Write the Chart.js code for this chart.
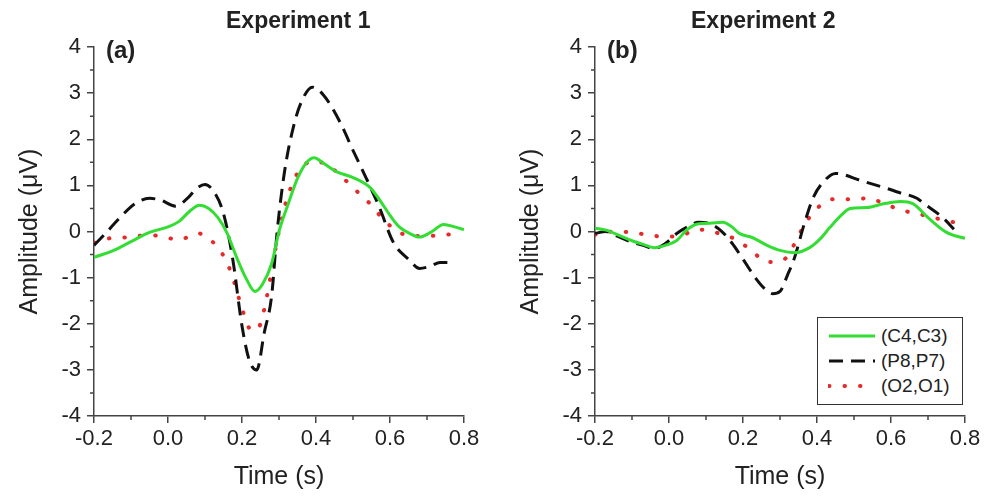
<!DOCTYPE html>
<html lang="en">
<head>
    <title>Experiment 1 / Experiment 2</title>
    <script src="https://cdn.jsdelivr.net/npm/chart.js"></script>
    <style>
        body {
            margin: 0;
            background: #ffffff;
            font-family: 'Liberation Sans', Arial, sans-serif;
            color: #222;
        }
        .panel {
            position: absolute;
            top: 0;
            height: 497px;
        }
        .panel-title {
            position: absolute;
            top: 7px;
            font-weight: bold;
            font-size: 23px;
            white-space: nowrap;
        }
        .panel-tag {
            position: absolute;
            top: 36px;
            font-weight: bold;
            font-size: 24px;
        }
        .legend-box {
            position: absolute;
            left: 817px;
            top: 317px;
            width: 146px;
            height: 88px;
            border: 1.5px solid #333;
            background: #fff;
            padding-top: 5px;
            box-sizing: border-box;
        }
        .legend-item {
            display: flex;
            align-items: center;
            height: 25px;
            font-size: 19px;
        }
        .legend-item svg {
            margin-left: 10px;
            margin-right: 5px;
        }
    </style>
</head>
<body>
    <div class="panel" style="left:0;width:493px"><canvas id="chartA"></canvas></div>
    <div class="panel" style="left:493px;width:494px"><canvas id="chartB"></canvas></div>

    <div class="panel-title" style="left:226px">Experiment 1</div>
    <div class="panel-title" style="left:691px">Experiment 2</div>
    <div class="panel-tag" style="left:106px">(a)</div>
    <div class="panel-tag" style="left:607px">(b)</div>

    <div class="legend-box" id="legend-container"></div>

    <script>
        // Experiment 1 (a)
        const aC4Time = [-0.2, -0.15, -0.1, -0.05, 0.0, 0.03, 0.06, 0.085, 0.11, 0.135, 0.16, 0.185, 0.21, 0.235, 0.255, 0.28, 0.3, 0.325, 0.35, 0.375, 0.395, 0.42, 0.455, 0.5, 0.545, 0.575, 0.6, 0.625, 0.655, 0.68, 0.71, 0.745, 0.775, 0.8];
        const aC4Amp  = [-0.56, -0.42, -0.22, -0.02, 0.1, 0.22, 0.45, 0.57, 0.5, 0.3, -0.04, -0.55, -1.0, -1.3, -1.15, -0.7, 0.0, 0.6, 1.15, 1.5, 1.6, 1.48, 1.3, 1.17, 0.96, 0.65, 0.35, 0.1, -0.05, -0.12, -0.02, 0.15, 0.1, 0.04];

        const aP8Time = [-0.2, -0.17, -0.13, -0.09, -0.05, -0.02, 0.02, 0.05, 0.08, 0.1, 0.125, 0.15, 0.175, 0.2, 0.22, 0.24, 0.26, 0.28, 0.295, 0.315, 0.34, 0.36, 0.39, 0.42, 0.465, 0.5, 0.535, 0.57, 0.61, 0.65, 0.68, 0.71, 0.735, 0.76];
        const aP8Amp  = [-0.3, -0.05, 0.3, 0.6, 0.72, 0.68, 0.55, 0.7, 0.95, 1.02, 0.85, 0.39, -0.6, -2.05, -2.8, -3.0, -2.2, -1.4, 0.0, 1.3, 2.3, 2.8, 3.13, 2.96, 2.37, 1.76, 1.17, 0.55, -0.25, -0.6, -0.8, -0.75, -0.67, -0.67];

        const aO2Time = [-0.2, -0.16, -0.1, -0.06, -0.02, 0.03, 0.08, 0.12, 0.155, 0.175, 0.2, 0.22, 0.235, 0.25, 0.265, 0.28, 0.297, 0.32, 0.34, 0.36, 0.4, 0.45, 0.5, 0.545, 0.585, 0.625, 0.675, 0.72, 0.78];
        const aO2Amp  = [-0.24, -0.15, -0.12, -0.08, -0.1, -0.18, -0.04, -0.22, -0.6, -1.0, -1.67, -2.1, -2.15, -2.0, -1.5, -0.85, -0.1, 0.67, 1.1, 1.39, 1.52, 1.33, 0.95, 0.61, 0.24, -0.02, -0.1, -0.09, -0.05];

        // Experiment 2 (b)
        const bC4Time = [-0.2, -0.17, -0.13, -0.1, -0.07, -0.04, -0.01, 0.02, 0.05, 0.08, 0.11, 0.145, 0.17, 0.19, 0.225, 0.265, 0.3, 0.34, 0.38, 0.41, 0.435, 0.465, 0.49, 0.535, 0.58, 0.625, 0.66, 0.7, 0.75, 0.8];
        const bC4Amp  = [0.07, 0.03, -0.1, -0.2, -0.28, -0.35, -0.3, -0.2, 0.05, 0.17, 0.18, 0.2, 0.1, -0.04, -0.13, -0.3, -0.41, -0.46, -0.35, -0.15, 0.09, 0.35, 0.5, 0.52, 0.6, 0.65, 0.6, 0.3, -0.02, -0.15];

        const bP8Time = [-0.2, -0.17, -0.14, -0.105, -0.07, -0.04, -0.01, 0.02, 0.05, 0.08, 0.11, 0.14, 0.17, 0.2, 0.235, 0.26, 0.28, 0.3, 0.32, 0.34, 0.365, 0.39, 0.42, 0.45, 0.52, 0.59, 0.62, 0.67, 0.69, 0.74, 0.77];
        const bP8Amp  = [-0.04, 0.0, -0.1, -0.22, -0.3, -0.37, -0.26, -0.05, 0.1, 0.2, 0.17, 0.02, -0.25, -0.6, -1.02, -1.25, -1.35, -1.3, -0.95, -0.55, 0.15, 0.74, 1.1, 1.26, 1.1, 0.93, 0.85, 0.72, 0.6, 0.3, 0.05];

        const bO2Time = [-0.2, -0.15, -0.1, -0.06, -0.015, 0.03, 0.08, 0.125, 0.175, 0.22, 0.265, 0.31, 0.34, 0.365, 0.4, 0.445, 0.49, 0.54, 0.585, 0.63, 0.68, 0.725, 0.77];
        const bO2Amp  = [-0.07, 0.0, -0.02, -0.07, -0.11, -0.09, 0.04, -0.02, -0.15, -0.39, -0.66, -0.61, -0.26, 0.13, 0.5, 0.7, 0.7, 0.72, 0.59, 0.46, 0.37, 0.28, 0.2];

        const seriesLabels = ['(C4,C3)', '(P8,P7)', '(O2,O1)'];
        const xTicks = [-0.2, 0.0, 0.2, 0.4, 0.6, 0.8];
        const yTicks = [-4, -3, -2, -1, 0, 1, 2, 3, 4];

        const FONT = "'Liberation Sans', Arial, sans-serif";
        const AXIS = '#444';
        const styles = [
            { color: '#33dd33', width: 3, dash: [] , cap: 'butt' },
            { color: '#111111', width: 3, dash: [14, 8], cap: 'butt' },
            { color: '#e52a2a', width: 4, dash: [0.5, 15], cap: 'round' }
        ];

        const toPoints = (ts, vs) => ts.map((t, i) => ({ x: t, y: vs[i] }));

        // minor ticks between the labelled ones
        const minorTicks = {
            id: 'minorTicks',
            afterDraw(chart) {
                const { ctx, scales: { x, y } } = chart;
                ctx.save();
                ctx.strokeStyle = AXIS;
                ctx.lineWidth = 1.5;
                ctx.beginPath();
                for (let i = 0; i < yTicks.length - 1; i++) {
                    const py = y.getPixelForValue((yTicks[i] + yTicks[i + 1]) / 2);
                    ctx.moveTo(x.left, py);
                    ctx.lineTo(x.left - 4, py);
                }
                for (let i = 0; i < xTicks.length - 1; i++) {
                    const px = x.getPixelForValue((xTicks[i] + xTicks[i + 1]) / 2);
                    ctx.moveTo(px, y.bottom);
                    ctx.lineTo(px, y.bottom + 4);
                }
                ctx.stroke();
                ctx.restore();
            }
        };

        function makeChart(id, series, yAxisWidth, yTitlePad, rightPad) {
            const ctx = document.getElementById(id).getContext('2d');
            return new Chart(ctx, {
                type: 'line',
                data: {
                    datasets: series.map((pts, i) => ({
                        label: seriesLabels[i],
                        data: pts,
                        borderColor: styles[i].color,
                        borderWidth: styles[i].width,
                        borderDash: styles[i].dash,
                        borderCapStyle: styles[i].cap,
                        pointRadius: 0,
                        fill: false,
                        cubicInterpolationMode: 'monotone'
                    }))
                },
                options: {
                    responsive: true,
                    maintainAspectRatio: false,
                    animation: false,
                    layout: { padding: { left: 0, right: rightPad, top: 47, bottom: 0 } },
                    plugins: {
                        legend: { display: false },
                        title: { display: false },
                        tooltip: { enabled: false }
                    },
                    scales: {
                        x: {
                            type: 'linear',
                            min: -0.2,
                            max: 0.8,
                            afterBuildTicks: (axis) => { axis.ticks = xTicks.map(v => ({ value: v })); },
                            afterFit: (axis) => { axis.height = 81; },
                            grid: { drawOnChartArea: false, drawTicks: true, tickLength: 7, color: AXIS, lineWidth: 1.5 },
                            border: { display: true, color: AXIS, width: 1.5 },
                            ticks: {
                                color: '#222',
                                padding: 3,
                                maxRotation: 0,
                                font: { family: FONT, size: 22 },
                                callback: (v) => (Math.abs(v) < 1e-9 ? 0 : v).toFixed(1)
                            },
                            title: {
                                display: true,
                                text: 'Time (s)',
                                color: '#222',
                                font: { family: FONT, size: 25 },
                                padding: { top: 0, bottom: 5 }
                            }
                        },
                        y: {
                            min: -4,
                            max: 4,
                            afterBuildTicks: (axis) => { axis.ticks = yTicks.map(v => ({ value: v })); },
                            afterFit: (axis) => { axis.width = yAxisWidth; },
                            grid: { drawOnChartArea: false, drawTicks: true, tickLength: 7, color: AXIS, lineWidth: 1.5 },
                            border: { display: true, color: AXIS, width: 1.5 },
                            ticks: {
                                color: '#222',
                                padding: 6,
                                font: { family: FONT, size: 22 }
                            },
                            title: {
                                display: true,
                                text: 'Amplitude (μV)',
                                color: '#222',
                                font: { family: FONT, size: 25 },
                                padding: { top: yTitlePad, bottom: 0 }
                            }
                        }
                    }
                },
                plugins: [minorTicks]
            });
        }

        makeChart('chartA', [
            toPoints(aC4Time, aC4Amp),
            toPoints(aP8Time, aP8Amp),
            toPoints(aO2Time, aO2Amp)
        ], 94, 15, 29);

        makeChart('chartB', [
            toPoints(bC4Time, bC4Amp),
            toPoints(bP8Time, bP8Amp),
            toPoints(bO2Time, bO2Amp)
        ], 102, 23, 22);

        // Legend
        const legendContainer = document.getElementById('legend-container');
        seriesLabels.forEach((label, i) => {
            const s = styles[i];
            const item = document.createElement('div');
            item.className = 'legend-item';
            item.innerHTML = `
                <svg width="48" height="10"><line x1="1" y1="5" x2="47" y2="5" stroke="${s.color}"
                    stroke-width="${s.width}" stroke-dasharray="${s.dash.join(' ')}" stroke-linecap="${s.cap}"/></svg>
                <span>${label}</span>
            `;
            legendContainer.appendChild(item);
        });
    </script>
</body>
</html>
